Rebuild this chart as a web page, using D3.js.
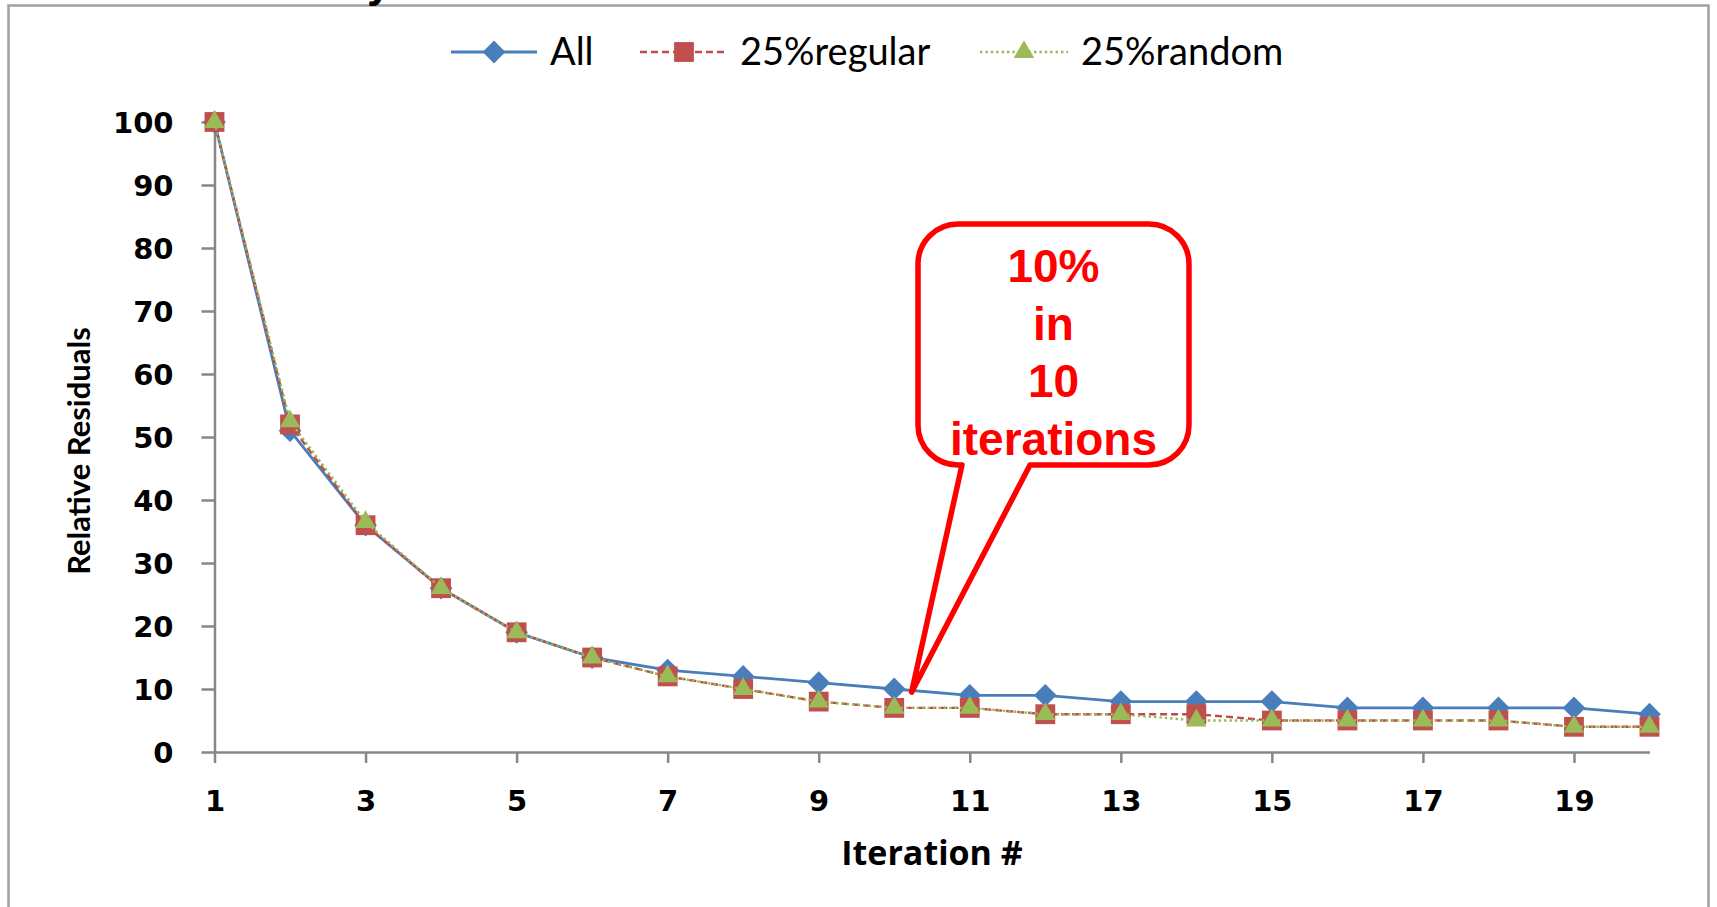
<!DOCTYPE html>
<html>
<head>
<meta charset="utf-8">
<script src="https://cdn.jsdelivr.net/npm/d3@7"></script>
<style>
  body { margin: 0; background: #ffffff; }
  svg { display: block; }
</style>
</head>
<body>
<svg id="chart" width="1717" height="907"></svg>
<script>
// ---- data ----
const iterations = [1, 2, 3, 4, 5, 6, 7, 8, 9, 10, 11, 12, 13, 14, 15, 16, 17, 18, 19, 20];
const allValues = [100, 51, 36, 26, 19, 15, 13, 12, 11, 10, 9, 9, 8, 8, 8, 7, 7, 7, 7, 6];
const regularValues = [100, 52, 36, 26, 19, 15, 12, 10, 8, 7, 7, 6, 6, 6, 5, 5, 5, 5, 4, 4];
const randomValues = [100, 52.5, 36.5, 26, 19, 15, 12, 10, 8, 7, 7, 6, 6, 5, 5, 5, 5, 5, 4, 4];
const seriesNames = ["All", "25%regular", "25%random"];
const yTickValues = [0, 10, 20, 30, 40, 50, 60, 70, 80, 90, 100];
const xTickValues = [1, 3, 5, 7, 9, 11, 13, 15, 17, 19];
const calloutLines = ["10%", "in", "10", "iterations"];
const calloutPoint = [10.23, 9.5];   // iteration / residual the callout points at
const yTitle = "Relative Residuals";
const xTitle = "Iteration #";

// ---- layout ----
const W = 1717, H = 907;
const svg = d3.select("#chart");
const x = d3.scaleLinear().domain([1, 20]).range([214.5, 1649.5]);
const y = d3.scaleLinear().domain([0, 100]).range([752, 122]);

const axisColor = "#878787";
const tickFont = "'DejaVu Sans', Verdana, sans-serif";

// outer chart frame (bottom edge runs off the page)
svg.append("path")
  .attr("d", `M8.5,${H} V5.5 H1708.5 V${H}`)
  .attr("fill", "none").attr("stroke", "#a0a0a0").attr("stroke-width", 2.5);

// tail of the slide heading above the chart
svg.append("text")
  .attr("x", 367).attr("y", -3)
  .attr("font-family", "'Liberation Sans', Arial, sans-serif")
  .attr("font-weight", "bold").attr("font-size", 44)
  .attr("fill", "#000").text("y");

// ---- axes ----
const yAxis = d3.axisLeft(y).tickValues(yTickValues).tickSize(13).tickPadding(28).tickSizeOuter(0);
const gy = svg.append("g").attr("transform", `translate(${x(1)},0)`).call(yAxis);
gy.select(".domain").attr("stroke", axisColor).attr("stroke-width", 2.5);
gy.selectAll(".tick line").attr("stroke", axisColor).attr("stroke-width", 2.5);
gy.selectAll(".tick text")
  .attr("font-family", tickFont).attr("font-weight", "bold").attr("font-size", 29)
  .attr("fill", "#000").attr("dy", "0.36em");

const xAxis = d3.axisBottom(x).tickValues(xTickValues).tickSize(11).tickPadding(26).tickSizeOuter(0)
  .tickFormat(d3.format("d"));
const gx = svg.append("g").attr("transform", `translate(0,${y(0)})`).call(xAxis);
gx.select(".domain").attr("stroke", axisColor).attr("stroke-width", 2.5);
gx.selectAll(".tick line").attr("stroke", axisColor).attr("stroke-width", 2.5);
gx.selectAll(".tick text")
  .attr("font-family", tickFont).attr("font-weight", "bold").attr("font-size", 29)
  .attr("fill", "#000").attr("dy", "0.75em");

// axis titles
svg.append("text")
  .attr("transform", `translate(90,451) rotate(-90)`)
  .attr("text-anchor", "middle")
  .attr("font-family", "Lato, 'Open Sans', sans-serif")
  .attr("font-weight", "bold").attr("font-size", 31)
  .attr("fill", "#000").text(yTitle);

svg.append("text")
  .attr("x", (x(1) + x(20)) / 2).attr("y", 865)
  .attr("text-anchor", "middle")
  .attr("font-family", "'Open Sans', Lato, sans-serif")
  .attr("font-weight", "bold").attr("font-size", 34)
  .attr("fill", "#000").text(xTitle);

// ---- series ----
const series = [
  { name: seriesNames[0], values: allValues, color: "#4A7EBB", dash: null, width: 2.8,
    marker: d3.symbol().type(d3.symbolDiamond2).size(330), markerColor: "#4A7EBB" },
  { name: seriesNames[1], values: regularValues, color: "#BE4B48", dash: "7,4", width: 2.4,
    marker: d3.symbol().type(d3.symbolSquare2).size(500), markerColor: "#C0504D" },
  { name: seriesNames[2], values: randomValues, color: "#98B954", dash: "2.4,3", width: 2.4,
    marker: d3.symbol().type(d3.symbolTriangle2).size(300), markerColor: "#9BBB59" }
];

const line = d3.line().x((d, i) => x(iterations[i])).y(d => y(d));

series.forEach(s => {
  const g = svg.append("g");
  g.append("path")
    .attr("d", line(s.values))
    .attr("fill", "none").attr("stroke", s.color).attr("stroke-width", s.width)
    .attr("stroke-dasharray", s.dash).attr("stroke-linejoin", "round");
  g.selectAll("path.marker").data(s.values).join("path")
    .attr("class", "marker")
    .attr("transform", (d, i) => `translate(${x(iterations[i])},${y(d)})`)
    .attr("d", s.marker())
    .attr("fill", s.markerColor);
});

// ---- legend ----
const legendY = 52;
const legendItems = [
  { x0: 451, x1: 537, tx: 550 },
  { x0: 640, x1: 728, tx: 740 },
  { x0: 980, x1: 1068, tx: 1081 }
];
series.forEach((s, i) => {
  const L = legendItems[i];
  const g = svg.append("g");
  g.append("line")
    .attr("x1", L.x0).attr("x2", L.x1).attr("y1", legendY).attr("y2", legendY)
    .attr("stroke", s.color).attr("stroke-width", s.width).attr("stroke-dasharray", s.dash);
  g.append("path")
    .attr("transform", `translate(${(L.x0 + L.x1) / 2},${legendY})`)
    .attr("d", s.marker()).attr("fill", s.markerColor);
  g.append("text")
    .attr("x", L.tx).attr("y", legendY + 13)
    .attr("font-family", "Lato, 'Open Sans', sans-serif")
    .attr("font-size", 38).attr("fill", "#000").text(s.name);
});

// ---- callout ----
const box = { x0: 918, x1: 1189, y0: 224, y1: 465, r: 40 };
const wedge = { left: 962, right: 1030 };
const tip = [x(calloutPoint[0]), y(calloutPoint[1])];
const p = d3.path();
p.moveTo(box.x0 + box.r, box.y0);
p.lineTo(box.x1 - box.r, box.y0);
p.arcTo(box.x1, box.y0, box.x1, box.y0 + box.r, box.r);
p.lineTo(box.x1, box.y1 - box.r);
p.arcTo(box.x1, box.y1, box.x1 - box.r, box.y1, box.r);
p.lineTo(wedge.right, box.y1);
p.lineTo(tip[0], tip[1]);
p.lineTo(wedge.left, box.y1);
p.lineTo(box.x0 + box.r, box.y1);
p.arcTo(box.x0, box.y1, box.x0, box.y1 - box.r, box.r);
p.lineTo(box.x0, box.y0 + box.r);
p.arcTo(box.x0, box.y0, box.x0 + box.r, box.y0, box.r);
p.closePath();
svg.append("path")
  .attr("d", p.toString())
  .attr("fill", "#ffffff").attr("stroke", "#FF0000").attr("stroke-width", 5.5)
  .attr("stroke-linejoin", "round");

const calloutBaselines = [282, 340, 397, 455];
svg.append("g").selectAll("text").data(calloutLines).join("text")
  .attr("x", (box.x0 + box.x1) / 2)
  .attr("y", (d, i) => calloutBaselines[i])
  .attr("text-anchor", "middle")
  .attr("font-family", "'Liberation Sans', Arial, sans-serif")
  .attr("font-weight", "bold").attr("font-size", 46)
  .attr("fill", "#FF0000").text(d => d);
</script>
</body>
</html>
